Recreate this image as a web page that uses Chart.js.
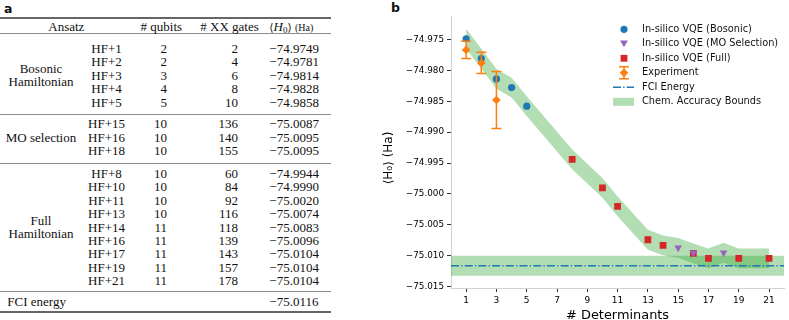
<!DOCTYPE html>
<html>
<head>
<meta charset="utf-8">
<script src="https://cdn.jsdelivr.net/npm/chart.js@4.4.1/dist/chart.umd.min.js"></script>
<style>
  html, body { margin: 0; padding: 0; background: #fff; }
  #page { position: relative; width: 789px; height: 320px; overflow: hidden; }
  .t { position: absolute; font-family: "Liberation Serif", serif; font-size: 13px; line-height: 14px; color: #111; white-space: nowrap; }
  .rule { position: absolute; left: 0; width: 331px; }
  .panel { position: absolute; font-family: "DejaVu Sans", sans-serif; font-weight: bold; font-size: 12.5px; line-height: 14px; color: #111; }
  #chart { position: absolute; left: 380px; top: 0; }
</style>
</head>
<body>
<div id="page">
  <div class="panel" style="left:4px;top:2px">a</div>
  <div class="panel" style="left:391px;top:1px">b</div>
  <div id="table"></div>
  <canvas id="chart" width="409" height="320"></canvas>
</div>
<script>
// ---- data ----
const detBosonic = [1, 2, 3, 4, 5];
const energyBosonic = [-74.9749, -74.9781, -74.9814, -74.9828, -74.9858];
const qubitsBosonic = [2, 2, 3, 4, 5];
const gatesBosonic = [2, 4, 6, 8, 10];

const detMO = [15, 16, 18];
const energyMO = [-75.0087, -75.0095, -75.0095];
const qubitsMO = [10, 10, 10];
const gatesMO = [136, 140, 155];

const detFull = [8, 10, 11, 13, 14, 16, 17, 19, 21];
const energyFull = [-74.9944, -74.9990, -75.0020, -75.0074, -75.0083, -75.0096, -75.0104, -75.0104, -75.0104];
const qubitsFull = [10, 10, 10, 10, 11, 11, 11, 11, 11];
const gatesFull = [60, 84, 92, 116, 118, 139, 143, 157, 178];

const detExp = [1, 2, 3];
const energyExp = [-74.9767, -74.9788, -74.9848];
const errExp = [0.0014, 0.0017, 0.0046];

const fciEnergy = -75.0116;
const chemAccuracy = 0.0016;

const xTicks = [1, 3, 5, 7, 9, 11, 13, 15, 17, 19, 21];
const yTicks = [-75.015, -75.010, -75.005, -75.000, -74.995, -74.990, -74.985, -74.980, -74.975];
const xMin = 0, xMax = 22;
const yMin = -75.0152, yMax = -74.9713;

const legendLabels = ["In-silico VQE (Bosonic)", "In-silico VQE (MO Selection)", "In-silico VQE (Full)", "Experiment", "FCI Energy", "Chem. Accuracy Bounds"];

const blue = "#1f77b4", orange = "#ff7f0e", red = "#d62728", purple = "#9467bd";
const green = "rgba(44, 160, 44, 0.36)";
const fam = '"DejaVu Sans", sans-serif';

const minus = (v, d) => v.toFixed(d).replace("-", "\u2212");

// ---- table (panel a) ----
const tbl = document.getElementById("table");
function put(html, x, y, align) {
  const el = document.createElement("div");
  el.className = "t";
  el.innerHTML = html;
  el.style.left = x + "px";
  el.style.top = (y - 7) + "px";
  if (align === "center") el.style.transform = "translateX(-50%)";
  if (align === "right") el.style.transform = "translateX(-100%)";
  tbl.appendChild(el);
}
function rule(y, h, c) {
  const el = document.createElement("div");
  el.className = "rule";
  el.style.top = y + "px";
  el.style.height = h + "px";
  el.style.background = c;
  tbl.appendChild(el);
}

rule(17, 2, "#666");
rule(33, 1, "#8c8c8c");
rule(114, 1, "#8c8c8c");
rule(163, 1, "#8c8c8c");
rule(291, 1, "#8c8c8c");
rule(311, 2, "#666");

put("Ansatz", 66.3, 27, "center");
put("# qubits", 161.3, 27, "center");
put("# XX gates", 229.5, 27, "center");
put('<span style="font-family:\'DejaVu Serif\';font-size:11px">\u27e8</span><i>H</i><sub style="font-size:9px;vertical-align:-2px">0</sub><span style="font-family:\'DejaVu Serif\';font-size:11px">\u27e9</span> <span style="font-size:10px">(Ha)</span>', 269.3, 27, "left");

const groups = [
  { name: ["Bosonic", "Hamiltonian"], y0: 49, det: detBosonic, q: qubitsBosonic, g: gatesBosonic, e: energyBosonic },
  { name: ["MO selection"], y0: 124.3, det: detMO, q: qubitsMO, g: gatesMO, e: energyMO },
  { name: ["Full", "Hamiltonian"], y0: 174, det: detFull, q: qubitsFull, g: gatesFull, e: energyFull },
];
const rowStep = 13.4;
groups.forEach((grp) => {
  const mid = grp.y0 + (grp.det.length - 1) * rowStep / 2;
  grp.name.forEach((line, k) => {
    put(line, 41, mid + (k - (grp.name.length - 1) / 2) * 13, "center");
  });
  grp.det.forEach((d, i) => {
    const y = grp.y0 + i * rowStep;
    put("HF+" + d, 106.5, y, "center");
    put(String(grp.q[i]), 167, y, "right");
    put(String(grp.g[i]), 238, y, "right");
    put(minus(grp.e[i], 4), 269.3, y, "left");
  });
});
put("FCI energy", 7.3, 302.3, "left");
put(minus(fciEnergy, 4), 269.3, 302.3, "left");

// ---- chart (panel b) ----
const pts = (xs, ys) => xs.map((x, i) => ({ x: x, y: ys[i] }));

// lowest energy per determinant count for the accuracy band
const best = new Map();
detBosonic.forEach((d, i) => best.set(d, energyBosonic[i]));
detFull.forEach((d, i) => best.set(d, energyFull[i]));
detMO.forEach((d, i) => { if (!best.has(d)) best.set(d, energyMO[i]); });
const bandX = [...best.keys()].sort((a, b) => a - b);

const hidden = "rgba(0,0,0,0)";

const errorBars = {
  id: "errorBars",
  beforeDatasetDraw(chart, args) {
    if (chart.data.datasets[args.index].label !== "Experiment") return;
    const { ctx, scales: { x, y } } = chart;
    ctx.save();
    ctx.strokeStyle = orange;
    ctx.lineWidth = 1.5;
    detExp.forEach((d, i) => {
      const px = x.getPixelForValue(d);
      const top = y.getPixelForValue(energyExp[i] + errExp[i]);
      const bot = y.getPixelForValue(energyExp[i] - errExp[i]);
      ctx.beginPath();
      ctx.moveTo(px, top); ctx.lineTo(px, bot);
      ctx.moveTo(px - 5, top); ctx.lineTo(px + 5, top);
      ctx.moveTo(px - 5, bot); ctx.lineTo(px + 5, bot);
      ctx.stroke();
    });
    ctx.restore();
  }
};

function marker(ctx, kind, x, y) {
  ctx.beginPath();
  if (kind === "circle") {
    ctx.fillStyle = blue;
    ctx.arc(x, y, 3.6, 0, Math.PI * 2);
  } else if (kind === "tri") {
    ctx.fillStyle = purple;
    ctx.moveTo(x - 3.9, y - 3.2); ctx.lineTo(x + 3.9, y - 3.2); ctx.lineTo(x, y + 3.4);
  } else if (kind === "square") {
    ctx.fillStyle = red;
    ctx.rect(x - 3.4, y - 3.4, 6.8, 6.8);
  } else if (kind === "diamond") {
    ctx.fillStyle = orange;
    ctx.moveTo(x, y - 4.4); ctx.lineTo(x + 4.2, y); ctx.lineTo(x, y + 4.4); ctx.lineTo(x - 4.2, y);
  }
  ctx.closePath();
  ctx.fill();
}

const legendBox = {
  id: "legendBox",
  afterDraw(chart) {
    const ctx = chart.ctx;
    const mx = 244, tx = 262, y0 = 29.3, dy = 14.5;
    ctx.save();
    legendLabels.forEach((label, i) => {
      const y = y0 + i * dy;
      if (i === 0) marker(ctx, "circle", mx, y);
      if (i === 1) marker(ctx, "tri", mx, y);
      if (i === 2) marker(ctx, "square", mx, y);
      if (i === 3) {
        ctx.strokeStyle = orange;
        ctx.lineWidth = 1.5;
        ctx.beginPath();
        ctx.moveTo(mx, y - 6); ctx.lineTo(mx, y + 6);
        ctx.moveTo(mx - 5, y - 6); ctx.lineTo(mx + 5, y - 6);
        ctx.moveTo(mx - 5, y + 6); ctx.lineTo(mx + 5, y + 6);
        ctx.stroke();
        marker(ctx, "diamond", mx, y);
      }
      if (i === 4) {
        ctx.strokeStyle = blue;
        ctx.lineWidth = 1.4;
        ctx.setLineDash([8, 2.2, 1.3, 2.2]);
        ctx.beginPath();
        ctx.moveTo(mx - 11, y); ctx.lineTo(mx + 10, y);
        ctx.stroke();
        ctx.setLineDash([]);
      }
      if (i === 5) {
        ctx.fillStyle = green;
        ctx.fillRect(mx - 11, y - 4, 21, 8);
      }
      ctx.fillStyle = "#111";
      ctx.font = "9.8px " + fam;
      ctx.textBaseline = "middle";
      ctx.textAlign = "left";
      ctx.fillText(label, tx, y);
    });
    ctx.restore();
  }
};

new Chart(document.getElementById("chart"), {
  type: "line",
  data: {
    datasets: [
      { label: "bandUpper", data: bandX.map((d) => ({ x: d, y: best.get(d) + chemAccuracy })), fill: "+1",
        backgroundColor: green, borderColor: hidden, borderWidth: 0, pointRadius: 0, tension: 0, order: 8 },
      { label: "bandLower", data: bandX.map((d) => ({ x: d, y: best.get(d) - chemAccuracy })), fill: false,
        borderColor: hidden, borderWidth: 0, pointRadius: 0, tension: 0, order: 7 },
      { label: "Chem. Accuracy Bounds", data: [{ x: xMin, y: fciEnergy + chemAccuracy }, { x: xMax, y: fciEnergy + chemAccuracy }], fill: "+1",
        backgroundColor: green, borderColor: hidden, borderWidth: 0, pointRadius: 0, order: 6 },
      { label: "fciLower", data: [{ x: xMin, y: fciEnergy - chemAccuracy }, { x: xMax, y: fciEnergy - chemAccuracy }], fill: false,
        borderColor: hidden, borderWidth: 0, pointRadius: 0, order: 5 },
      { label: "FCI Energy", data: [{ x: xMin, y: fciEnergy }, { x: xMax, y: fciEnergy }], fill: false,
        borderColor: blue, borderWidth: 1.4, borderDash: [8, 2.2, 1.3, 2.2], pointRadius: 0, order: 4 },
      { label: "In-silico VQE (Full)", data: pts(detFull, energyFull), showLine: false,
        pointStyle: "rect", pointRadius: 4.8, backgroundColor: red, pointBackgroundColor: red, pointBorderWidth: 0, order: 3 },
      { label: "In-silico VQE (MO Selection)", data: pts(detMO, energyMO), showLine: false,
        pointStyle: "triangle", pointRotation: 180, pointRadius: 4.4, backgroundColor: purple, pointBackgroundColor: purple, pointBorderWidth: 0, order: 2 },
      { label: "In-silico VQE (Bosonic)", data: pts(detBosonic, energyBosonic), showLine: false,
        pointStyle: "circle", pointRadius: 3.6, backgroundColor: blue, pointBackgroundColor: blue, pointBorderWidth: 0, order: 1 },
      { label: "Experiment", data: pts(detExp, energyExp), showLine: false,
        pointStyle: "rectRot", pointRadius: 4.3, backgroundColor: orange, pointBackgroundColor: orange, pointBorderWidth: 0, order: 0 },
    ]
  },
  options: {
    responsive: false,
    animation: false,
    events: [],
    layout: { padding: { left: 0, top: 16.5, right: 0, bottom: 0 } },
    plugins: { legend: { display: false }, tooltip: { enabled: false } },
    scales: {
      x: {
        type: "linear", min: xMin, max: xMax,
        afterBuildTicks: (s) => { s.ticks = xTicks.map((v) => ({ value: v })); },
        afterFit: (s) => { s.height = 32; s.paddingLeft = 0; s.paddingRight = 0; },
        grid: { drawOnChartArea: false, drawTicks: true, tickLength: 4, tickColor: "#333" },
        border: { color: "#d2d2d2", width: 1 },
        ticks: { font: { family: fam, size: 9 }, color: "#000", padding: 3, maxRotation: 0, autoSkip: false },
        title: { display: true, text: "# Determinants", color: "#000", font: { family: fam, size: 12.9, lineHeight: 0.62 }, padding: 0 }
      },
      y: {
        type: "linear", min: yMin, max: yMax,
        afterBuildTicks: (s) => { s.ticks = yTicks.map((v) => ({ value: v })); },
        afterFit: (s) => { s.width = 71; s.paddingTop = 0; s.paddingBottom = 0; },
        grid: { drawOnChartArea: false, drawTicks: true, tickLength: 4, tickColor: "#333" },
        border: { color: "#d2d2d2", width: 1 },
        ticks: { font: { family: fam, size: 8.8 }, color: "#000", padding: 3, autoSkip: false, callback: (v) => minus(v, 3) },
        title: { display: true, text: "\u27e8H\u2080\u27e9 (Ha)   ", color: "#000", font: { family: fam, size: 12 }, padding: { top: 2, bottom: 0 } }
      }
    }
  },
  plugins: [errorBars, legendBox]
});
</script>
</body>
</html>
